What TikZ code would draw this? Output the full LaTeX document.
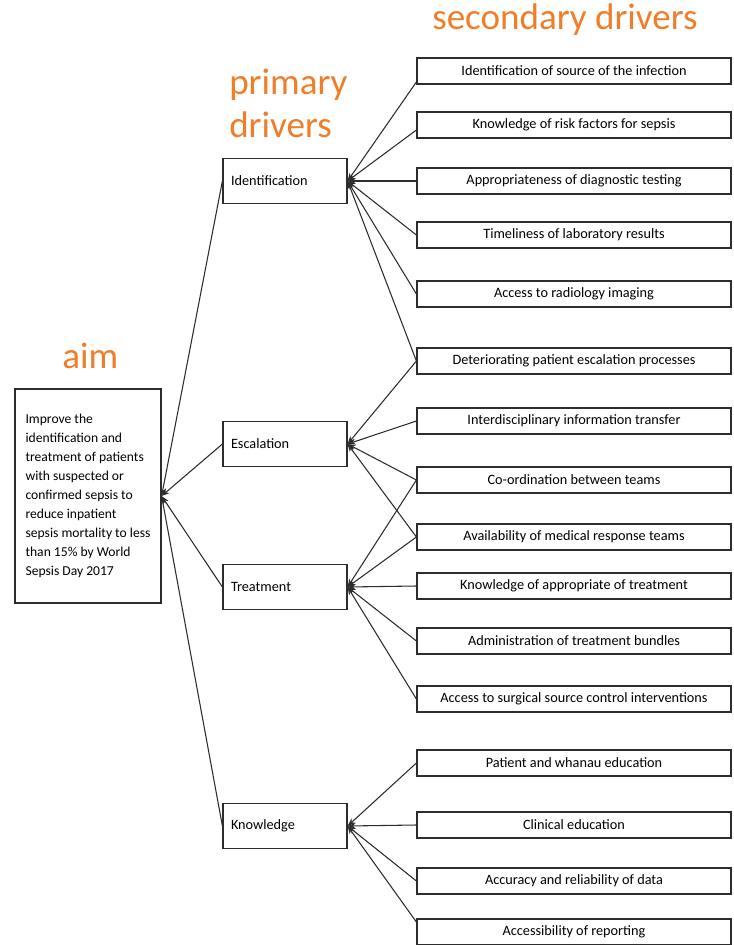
\documentclass[tikz,border=0pt]{standalone}
\usepackage{fontspec}
\setmainfont{Carlito}
\usetikzlibrary{arrows.meta,calc}
\definecolor{hdrcol}{RGB}{240,125,40}
\definecolor{lncol}{RGB}{45,45,45}
\begin{document}
\begin{tikzpicture}[x=0.75pt,y=-0.75pt,
  secbox/.style={draw=lncol, line width=0.9pt, minimum width=235.5pt, minimum height=19.5pt, inner sep=0pt, font=\fontsize{10.7}{12}\selectfont},
  primbox/.style={draw=lncol, line width=0.9pt, text width=81pt, inner xsep=6pt, inner ysep=0pt, minimum height=33.75pt, align=left, font=\fontsize{10.7}{12}\selectfont},
  aimbox/.style={draw=lncol, line width=0.9pt, minimum width=109.5pt, inner xsep=0pt, inner ysep=0pt, minimum height=160.5pt, align=left, font=\fontsize{10.2}{14.25}\selectfont},
  conn/.style={draw=lncol, line width=0.8pt, -{Stealth[length=6pt,width=4.5pt]}},
  hdr/.style={text=hdrcol, font=\fontsize{27.8}{32}\selectfont, inner sep=0pt, anchor=base west}]
\useasboundingbox (0,0) rectangle (733,945);

% headers
\node[hdr] (h1) at (432,30) {secondary drivers};
\node[hdr] (h2) at (229,95) {primary};
\node[hdr] (h3) at (229,138) {drivers};
\node[hdr] (h4) at (62,368) {aim};

% aim
\node[aimbox] (aim) at (88,496) {Improve the\\identification and\\treatment of patients\\with suspected or\\confirmed sepsis to\\reduce inpatient\\sepsis mortality to less\\than 15\% by World\\Sepsis Day 2017};

% primary drivers
\node[primbox] (p1) at (285,181) {Identification};
\node[primbox] (p2) at (285,444) {Escalation};
\node[primbox] (p3) at (285,587) {Treatment};
\node[primbox] (p4) at (285,826) {Knowledge};

% secondary drivers
\node[secbox] (s1) at (574,71) {Identification of source of the infection};
\node[secbox] (s2) at (574,125) {Knowledge of risk factors for sepsis};
\node[secbox] (s3) at (574,181) {Appropriateness of diagnostic testing};
\node[secbox] (s4) at (574,235) {Timeliness of laboratory results};
\node[secbox] (s5) at (574,294) {Access to radiology imaging};
\node[secbox] (s6) at (574,361) {Deteriorating patient escalation processes};
\node[secbox] (s7) at (574,421) {Interdisciplinary information transfer};
\node[secbox] (s8) at (574,480) {Co-ordination between teams};
\node[secbox] (s9) at (574,537) {Availability of medical response teams};
\node[secbox] (s10) at (574,586) {Knowledge of appropriate of treatment};
\node[secbox] (s11) at (574,641) {Administration of treatment bundles};
\node[secbox] (s12) at (574,699) {Access to surgical source control interventions};
\node[secbox] (s13) at (574,763) {Patient and whanau education};
\node[secbox] (s14) at (574,825) {Clinical education};
\node[secbox] (s15) at (574,881) {Accuracy and reliability of data};
\node[secbox] (s16) at (574,932) {Accessibility of reporting};

% primary -> aim
\foreach \p in {p1,p2,p3,p4}
  \draw[conn] (\p.west) -- (aim.east);

% secondary -> Identification
\draw[conn] ($(s1.west)+(0,11)$) -- (p1.east);
\draw[conn] ($(s2.west)+(0,5)$) -- (p1.east);
\foreach \s in {s3,s4,s5,s6}
  \draw[conn] (\s.west) -- (p1.east);

% secondary -> Escalation
\foreach \s in {s6,s7,s8,s9}
  \draw[conn] (\s.west) -- (p2.east);

% secondary -> Treatment
\foreach \s in {s8,s9,s10,s11,s12}
  \draw[conn] (\s.west) -- (p3.east);

% secondary -> Knowledge
\foreach \s in {s13,s14,s15}
  \draw[conn] (\s.west) -- (p4.east);
\draw[conn] ($(s16.west)+(0,-10)$) -- (p4.east);
\end{tikzpicture}
\end{document}
